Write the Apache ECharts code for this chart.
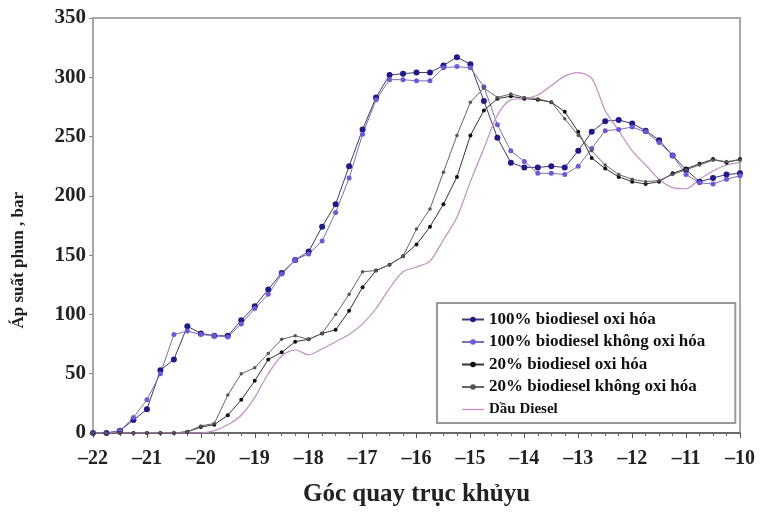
<!DOCTYPE html>
<html>
<head>
<meta charset="utf-8">
<script src="https://cdn.jsdelivr.net/npm/echarts@6/dist/echarts.min.js"></script>
<style>
  html, body { margin: 0; padding: 0; background: #fff; }
  #chart { width: 761px; height: 512px; }
</style>
</head>
<body>
<div id="chart"></div>
<script>
// Crank angle (degrees) of each sample
const angles = [-22, -21.75, -21.5, -21.25, -21, -20.75, -20.5, -20.25, -20, -19.75,
  -19.5, -19.25, -19, -18.75, -18.5, -18.25, -18, -17.75, -17.5, -17.25,
  -17, -16.75, -16.5, -16.25, -16, -15.75, -15.5, -15.25, -15, -14.75,
  -14.5, -14.25, -14, -13.75, -13.5, -13.25, -13, -12.75, -12.5, -12.25,
  -12, -11.75, -11.5, -11.25, -11, -10.75, -10.5, -10.25, -10];

// Injection pressure (bar)
const bio100Oxi = [0, 0, 2, 11, 20, 53, 62, 90, 84, 82,
  82, 95, 107, 121, 135, 146, 153, 174, 193, 225,
  256, 283, 302, 303, 304, 304, 310, 317, 311, 280,
  249, 228, 224, 224, 225, 224, 238, 254, 263, 264,
  261, 255, 247, 234, 222, 212, 215, 218, 219];

const bio100NoOxi = [0, 0, 2, 13, 28, 50, 83, 86, 83, 82,
  81, 92, 105, 117, 134, 146, 151, 162, 186, 215,
  252, 281, 298, 298, 297, 297, 308, 309, 308, 292,
  260, 238, 229, 219, 219, 218, 225, 240, 255, 256,
  258, 254, 245, 234, 218, 211, 210, 214, 217];

const bio20Oxi = [0, 0, 0, 0, 0, 0, 0, 1, 5, 7,
  15, 28, 44, 62, 68, 77, 79, 84, 87, 103,
  123, 137, 142, 149, 159, 174, 193, 216, 251, 272,
  282, 284, 282, 281, 279, 271, 254, 232, 223, 216,
  212, 210, 212, 219, 223, 227, 231, 228, 231];

const bio20NoOxi = [0, 0, 0, 0, 0, 0, 0, 1, 6, 8,
  32, 50, 55, 67, 79, 82, 79, 84, 100, 117,
  136, 137, 142, 149, 172, 189, 220, 251, 279, 291,
  283, 286, 283, 282, 279, 265, 251, 238, 226, 218,
  214, 212, 213, 218, 222, 226, 230, 229, 230];

const diesel = [0, 0, 0, 0, 0, 0, 0, 0, 0, 2,
  7, 15, 30, 50, 65, 70, 66, 71, 77, 83,
  92, 105, 122, 136, 140, 145, 163, 182, 212, 240,
  268, 281, 282, 285, 293, 301, 304, 299, 272, 255,
  238, 226, 214, 207, 206, 214, 221, 226, 228];

const seriesNames = [
  '100% biodiesel oxi hóa',
  '100% biodiesel không oxi hóa',
  '20% biodiesel oxi hóa',
  '20% biodiesel không oxi hóa',
  'Dầu Diesel'
];

const pairs = (vals) => angles.map((a, i) => [a, vals[i]]);
const serif = '"Liberation Serif", "Times New Roman", serif';

const chart = echarts.init(document.getElementById('chart'), null, { renderer: 'canvas' });

chart.setOption({
  animation: false,
  backgroundColor: '#ffffff',
  grid: {
    left: 93, top: 18, width: 647, height: 419,
    show: true, borderColor: '#a8a8a8', borderWidth: 2
  },
  graphic: [{
    type: 'text',
    left: 10, top: 192,
    rotation: Math.PI / 2,
    style: {
      text: 'Áp suất phun , bar',
      font: 'bold 17px "Liberation Serif", serif',
      fill: '#222'
    }
  }],
  xAxis: {
    type: 'value', min: -22, max: -10, interval: 1,
    name: 'Góc quay trục khủyu',
    nameLocation: 'middle', nameGap: 49,
    nameTextStyle: { fontFamily: serif, fontWeight: 'bold', fontSize: 25, color: '#222' },
    axisLine: { onZero: false, lineStyle: { color: '#555', width: 1.5 } },
    axisTick: { show: true, length: 5, lineStyle: { color: '#555' } },
    minorTick: { show: true, splitNumber: 4, length: 3, lineStyle: { color: '#666' } },
    splitLine: { show: false },
    axisLabel: {
      margin: 16, fontFamily: serif, fontWeight: 'bold', fontSize: 20, color: '#222',
      formatter: (v) => String(v).replace('-', '\u2013')
    }
  },
  yAxis: {
    type: 'value', min: 0, max: 350, interval: 50,
    axisLine: { show: true, lineStyle: { color: '#a8a8a8', width: 2 } },
    axisTick: { show: true, length: 4, lineStyle: { color: '#888' } },
    splitLine: { show: false },
    axisLabel: { margin: 7, fontFamily: serif, fontWeight: 'bold', fontSize: 21, color: '#222' }
  },
  legend: {
    orient: 'vertical',
    left: 437, top: 303,
    padding: [8, 30, 5, 24],
    itemGap: 5.5,
    itemWidth: 22, itemHeight: 7,
    borderColor: '#999', borderWidth: 2,
    backgroundColor: '#fff',
    textStyle: { fontFamily: serif, fontWeight: 'bold', fontSize: 17, color: '#111', lineHeight: 17 },
    data: [
      { name: seriesNames[0] },
      { name: seriesNames[1] },
      { name: seriesNames[2] },
      { name: seriesNames[3] },
      { name: seriesNames[4], icon: 'path://M0 0H24V1.4H0Z', textStyle: { fontSize: 15 } }
    ]
  },
  series: [
    {
      name: seriesNames[0], type: 'line', data: pairs(bio100Oxi),
      symbol: 'circle', symbolSize: 6,
      itemStyle: { color: '#1e1a8e' },
      lineStyle: { color: '#3a3a70', width: 1 }
    },
    {
      name: seriesNames[1], type: 'line', data: pairs(bio100NoOxi),
      symbol: 'circle', symbolSize: 5,
      itemStyle: { color: '#6b58dc' },
      lineStyle: { color: '#7a70b8', width: 1 }
    },
    {
      name: seriesNames[2], type: 'line', data: pairs(bio20Oxi),
      symbol: 'circle', symbolSize: 4,
      itemStyle: { color: '#111' },
      lineStyle: { color: '#333', width: 1 }
    },
    {
      name: seriesNames[3], type: 'line', data: pairs(bio20NoOxi),
      symbol: 'circle', symbolSize: 3.5,
      itemStyle: { color: '#555' },
      lineStyle: { color: '#666', width: 1 }
    },
    {
      name: seriesNames[4], type: 'line', data: pairs(diesel),
      symbol: 'none', smooth: 0.3,
      itemStyle: { color: '#c48cc8' },
      lineStyle: { color: '#c48cc8', width: 1.2 }
    }
  ]
});
</script>
</body>
</html>
